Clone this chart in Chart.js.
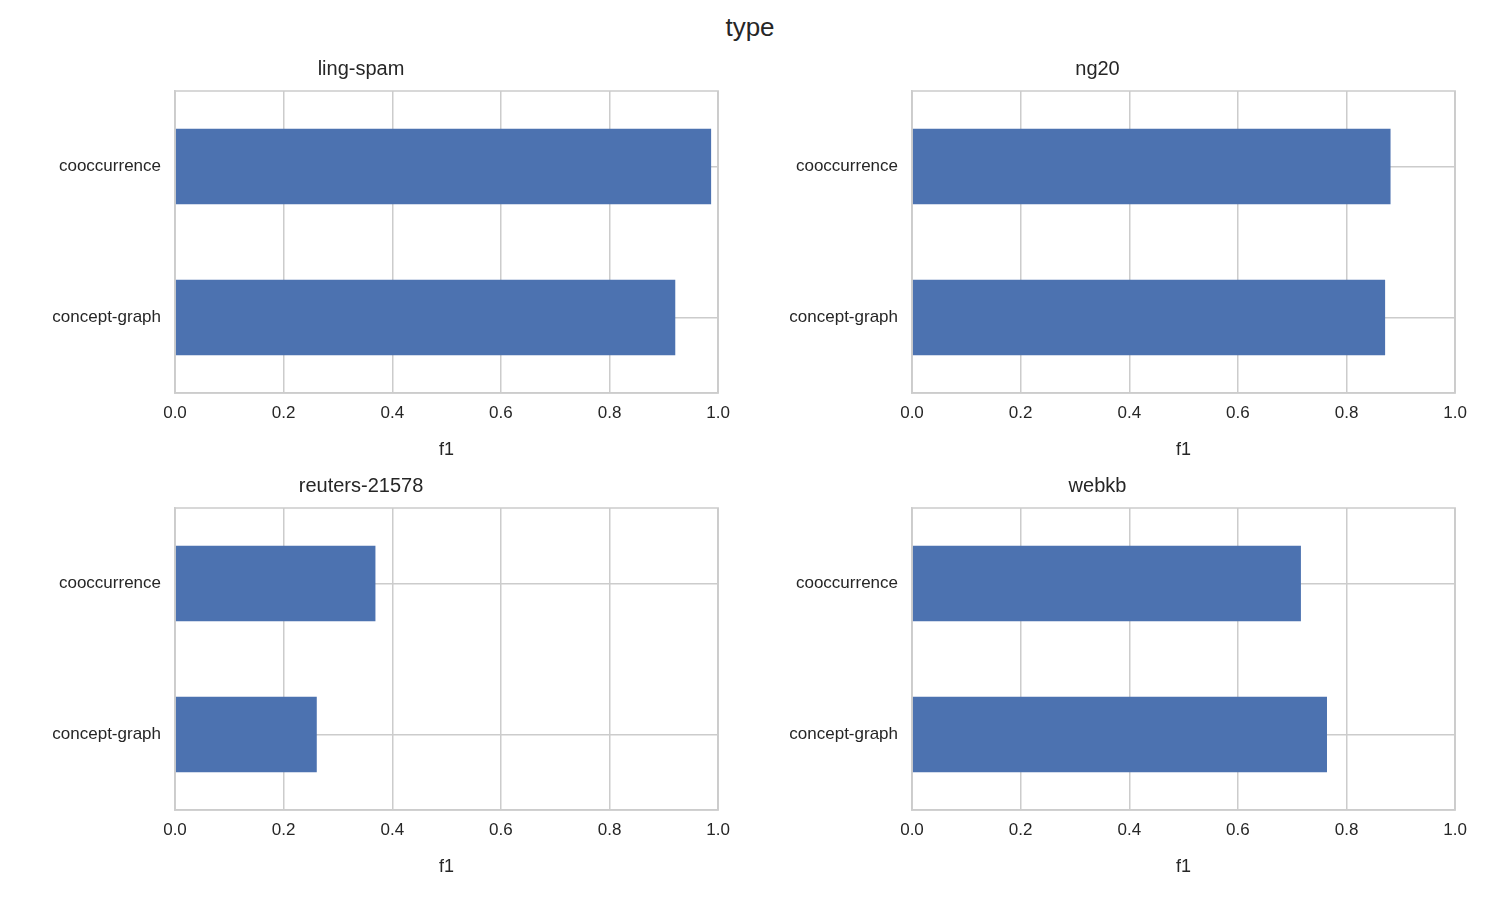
<!DOCTYPE html>
<html>
<head>
<meta charset="utf-8">
<script src="https://cdn.jsdelivr.net/npm/chart.js@4/dist/chart.umd.min.js"></script>
<style>
  body { margin: 0; background: #fff; width: 1500px; height: 900px; position: relative; overflow: hidden; }
  #sup { position: absolute; top: 12px; left: 0; width: 1500px; text-align: center;
         font: 26px "Liberation Sans", Arial, sans-serif; color: #262626; }
  .box { position: absolute; width: 740px; height: 410px; }
</style>
</head>
<body>
<div id="sup">type</div>
<div class="box" style="left:0;top:55px"><canvas id="c0"></canvas></div>
<div class="box" style="left:737px;top:55px"><canvas id="c1"></canvas></div>
<div class="box" style="left:0;top:472px"><canvas id="c2"></canvas></div>
<div class="box" style="left:737px;top:472px"><canvas id="c3"></canvas></div>
<script>
const categories = ['cooccurrence', 'concept-graph'];
const datasetNames = ['ling-spam', 'ng20', 'reuters-21578', 'webkb'];
const lingSpam = [0.987, 0.921];
const ng20 = [0.881, 0.871];
const reuters = [0.369, 0.261];
const webkb = [0.716, 0.764];
const xTicks = [0, 0.2, 0.4, 0.6, 0.8, 1.0];
const allValues = [lingSpam, ng20, reuters, webkb];

const FONT = '"Liberation Sans", Arial, sans-serif';
const TXT = '#262626';
const GRID = '#cccccc';

// draws the missing top/right spines
const frame = {
  id: 'frame',
  afterDraw(chart) {
    const a = chart.chartArea, c = chart.ctx;
    c.save();
    c.strokeStyle = GRID;
    c.lineWidth = 1.5;
    c.strokeRect(a.left, a.top, a.right - a.left, a.bottom - a.top);
    c.restore();
  }
};

allValues.forEach((vals, i) => {
  new Chart(document.getElementById('c' + i), {
    type: 'bar',
    data: {
      labels: categories,
      datasets: [{
        data: vals,
        backgroundColor: '#4c72b0',
        barPercentage: 0.5,
        categoryPercentage: 1.0
      }]
    },
    plugins: [frame],
    options: {
      indexAxis: 'y',
      responsive: true,
      maintainAspectRatio: false,
      animation: false,
      layout: { padding: { right: i % 2 === 0 ? 18 : 19 } },
      plugins: {
        legend: { display: false },
        tooltip: { enabled: false },
        title: {
          display: true,
          text: datasetNames[i],
          color: TXT,
          font: { family: FONT, size: 20, weight: 'normal' },
          padding: { top: 2, bottom: 10 }
        }
      },
      scales: {
        x: {
          min: 0, max: 1,
          afterBuildTicks: s => { s.ticks = xTicks.map(v => ({ value: v })); },
          afterFit: s => { s.height = 72; },
          grid: { color: GRID, lineWidth: 1.5, drawTicks: false },
          border: { color: GRID, width: 1.5 },
          ticks: { color: TXT, font: { family: FONT, size: 17 }, padding: 10,
                   callback: v => v.toFixed(1) },
          title: { display: true, text: 'f1', color: TXT,
                   font: { family: FONT, size: 18 }, padding: { top: 4 } }
        },
        y: {
          afterFit: s => { s.width = 175; },
          grid: { color: GRID, lineWidth: 1.5, drawTicks: false, offset: false },
          border: { color: GRID, width: 1.5 },
          ticks: { color: TXT, font: { family: FONT, size: 17 }, padding: 14 }
        }
      }
    }
  });
});
</script>
</body>
</html>
